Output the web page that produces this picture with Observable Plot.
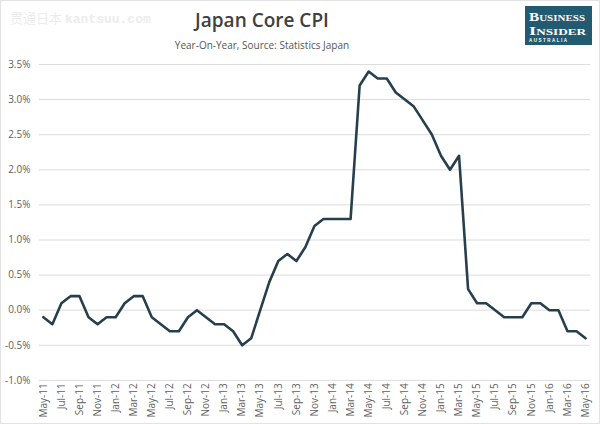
<!DOCTYPE html>
<html>
<head>
<meta charset="utf-8">
<script src="https://cdn.jsdelivr.net/npm/d3@7"></script>
<script src="https://cdn.jsdelivr.net/npm/@observablehq/plot@0.6"></script>
<style>
  html, body { margin: 0; padding: 0; background: #fff; }
  #wrap { position: relative; width: 600px; height: 424px; overflow: hidden; box-sizing: border-box; border: 1px solid #e2e2e2; font-family: "Open Sans", sans-serif; }
  #wm { position: absolute; left: 9px; top: 7px; font-size: 13px; color: #ececec; font-family: "Noto Sans CJK SC", "Liberation Mono", monospace; white-space: nowrap; }
  #wm .mono { font-family: "Liberation Mono", monospace; font-weight: bold; }
  #title { position: absolute; left: 0; width: 522px; top: 6px; text-align: center; font-size: 19px; font-weight: 600; color: #404040; }
  #subtitle { position: absolute; left: 0; width: 522px; top: 37px; text-align: center; font-size: 10px; color: #555; }
  #logo { position: absolute; left: 524px; top: 5px; }
  #chart { position: absolute; left: 0; top: 55px; }
</style>
</head>
<body>
<div id="wrap">
  <div id="wm">贯通日本 <span class="mono">kantsuu.com</span></div>
  <div id="title">Japan Core CPI</div>
  <div id="subtitle">Year-On-Year, Source: Statistics Japan</div>
  <svg id="logo" width="68" height="40" viewBox="0 0 68 40">
    <rect x="0" y="0" width="67" height="39" fill="#215a71"/>
    <text x="4" y="14.5" fill="#fff" font-family="Liberation Serif, DejaVu Serif, serif" font-size="12.5" font-weight="bold" textLength="56" lengthAdjust="spacingAndGlyphs" style="font-variant: small-caps">Business</text>
    <text x="4" y="28.5" fill="#fff" font-family="Liberation Serif, DejaVu Serif, serif" font-size="12.5" font-weight="bold" textLength="57" lengthAdjust="spacingAndGlyphs" style="font-variant: small-caps">Insider</text>
    <text x="4" y="36" fill="#fff" font-family="Liberation Sans, sans-serif" font-size="4.5" font-weight="bold" textLength="38" lengthAdjust="spacing">AUSTRALIA</text>
  </svg>
  <div id="chart"></div>
</div>
<script>
const months = [
  "May-11","Jun-11","Jul-11","Aug-11","Sep-11","Oct-11","Nov-11","Dec-11",
  "Jan-12","Feb-12","Mar-12","Apr-12","May-12","Jun-12","Jul-12","Aug-12","Sep-12","Oct-12","Nov-12","Dec-12",
  "Jan-13","Feb-13","Mar-13","Apr-13","May-13","Jun-13","Jul-13","Aug-13","Sep-13","Oct-13","Nov-13","Dec-13",
  "Jan-14","Feb-14","Mar-14","Apr-14","May-14","Jun-14","Jul-14","Aug-14","Sep-14","Oct-14","Nov-14","Dec-14",
  "Jan-15","Feb-15","Mar-15","Apr-15","May-15","Jun-15","Jul-15","Aug-15","Sep-15","Oct-15","Nov-15","Dec-15",
  "Jan-16","Feb-16","Mar-16","Apr-16","May-16"
];
const cpi = [
  -0.1,-0.2,0.1,0.2,0.2,-0.1,-0.2,-0.1,
  -0.1,0.1,0.2,0.2,-0.1,-0.2,-0.3,-0.3,-0.1,0.0,-0.1,-0.2,
  -0.2,-0.3,-0.5,-0.4,0.0,0.4,0.7,0.8,0.7,0.9,1.2,1.3,
  1.3,1.3,1.3,3.2,3.4,3.3,3.3,3.1,3.0,2.9,2.7,2.5,
  2.2,2.0,2.2,0.3,0.1,0.1,0.0,-0.1,-0.1,-0.1,0.1,0.1,
  0.0,0.0,-0.3,-0.3,-0.4
];
const yTicks = [-1.0,-0.5,0.0,0.5,1.0,1.5,2.0,2.5,3.0,3.5];

const data = months.map((m, i) => ({i, month: m, value: cpi[i]}));
const xTicks = months.map((m, i) => i).filter(i => i % 2 === 0);

const chart = Plot.plot({
  width: 600,
  height: 369,
  marginTop: 8,
  marginBottom: 44,
  marginLeft: 38,
  marginRight: 9,
  style: {fontFamily: "Open Sans, sans-serif", fontSize: "10px", color: "#606060", background: "transparent"},
  x: {domain: [-0.44, 60.55], ticks: xTicks, tickFormat: i => months[i], tickRotate: -90, tickSize: 0, tickPadding: 3, label: null},
  y: {domain: [-1.0, 3.5], ticks: yTicks, tickFormat: d => d.toFixed(1) + "%", tickSize: 0, tickPadding: 9, label: null},
  marks: [
    Plot.ruleY(yTicks, {stroke: "#dcdcdc", strokeWidth: 1}),
    Plot.line(data, {x: "i", y: "value", stroke: "#273f4c", strokeWidth: 2.6, strokeLinejoin: "round"})
  ]
});
document.getElementById("chart").appendChild(chart);
</script>
</body>
</html>
